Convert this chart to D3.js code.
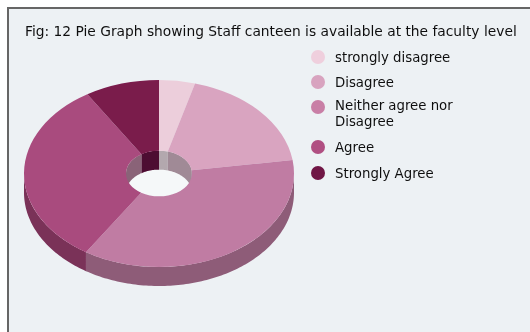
<!DOCTYPE html>
<html>
<head>
<meta charset="utf-8">
<script src="https://cdn.jsdelivr.net/npm/d3@7"></script>
<style>html,body{margin:0;padding:0;background:#fff;overflow:hidden}svg{display:block}</style>
</head>
<body>
<div id="chart"></div>
<script>
const categories = ["strongly disagree", "Disagree", "Neither agree nor|Disagree", "Agree", "Strongly Agree"];
const values = [4.3, 18.4, 36.4, 32, 8.9];
const faceColors = ["#eccedb", "#d9a4c0", "#c07ba3", "#a94b7e", "#7a1a4c"];
const legendColors = ["#efcfdd", "#d8a3bf", "#c97fa6", "#b04f82", "#701545"];
const outerWallColors = ["#9c8a94", "#94708a", "#8e5b78", "#7a3058", "#5a1038"];
const innerWallColors = ["#b3a8ae", "#a08a96", "#8e6a80", "#8a6478", "#4e0a30"];
const titleText = "Fig: 12 Pie Graph showing Staff canteen is available at the faculty level";

const W = 530, H = 332;
const font = "'DejaVu Sans',sans-serif";
const svg = d3.select("#chart").append("svg").attr("width", W).attr("height", H);
svg.append("defs").append("filter").attr("id", "soft")
  .attr("x", "-5%").attr("y", "-5%").attr("width", "110%").attr("height", "110%")
  .append("feGaussianBlur").attr("stdDeviation", 0.5);

const root = svg.append("g").attr("filter", "url(#soft)");
root.append("rect").attr("x", 8).attr("y", 8).attr("width", 540).attr("height", 340)
  .attr("fill", "#edf1f4").attr("stroke", "#666").attr("stroke-width", 2);

const cx = 159, cy = 173.5, rx = 135, ry = 93.5, rxIn = 33, depth = 19;
const k = ry / rx;
const pie = d3.pie().value(d => d).sort(null);
const arcs = pie(values);
const arc = d3.arc().innerRadius(rxIn).outerRadius(rx);
const pt = (r, a, dy) => [cx + r * Math.sin(a), cy - r * k * Math.cos(a) + dy];

function wall(r, a0, a1) {
  const n = Math.max(2, Math.ceil((a1 - a0) / 0.02));
  const angles = d3.range(n + 1).map(i => a0 + (a1 - a0) * i / n);
  const top = angles.map(a => pt(r, a, 0));
  const bottom = angles.map(a => pt(r, a, depth)).reverse();
  return d3.line()(top.concat(bottom)) + "Z";
}

const pie3d = root.append("g");
const PI = Math.PI;
// outer wall: front half of the ring
arcs.forEach((d, i) => {
  const a0 = Math.max(d.startAngle, PI / 2), a1 = Math.min(d.endAngle, 3 * PI / 2);
  if (a1 > a0) pie3d.append("path").attr("d", wall(rx, a0, a1)).attr("fill", outerWallColors[i]);
});
// see-through hole
pie3d.append("ellipse").attr("cx", cx).attr("cy", cy).attr("rx", rxIn).attr("ry", rxIn * k).attr("fill", "#f5f8f9");
// inner wall: back half of the hole
arcs.forEach((d, i) => {
  [[d.startAngle, Math.min(d.endAngle, PI / 2)], [Math.max(d.startAngle, 3 * PI / 2), d.endAngle]].forEach(([a0, a1]) => {
    if (a1 > a0) pie3d.append("path").attr("d", wall(rxIn, a0, a1)).attr("fill", innerWallColors[i]);
  });
});
// top faces
pie3d.append("g").attr("transform", `translate(${cx},${cy}) scale(1,${k})`)
  .selectAll("path").data(arcs).join("path")
  .attr("d", arc).attr("fill", (d, i) => faceColors[i]);

root.append("text").attr("x", 25).attr("y", 36).attr("font-family", font)
  .attr("font-size", 13.8).attr("fill", "#111").text(titleText);

const legendY = [57, 82, 107, 147, 173];
const legend = root.append("g").selectAll("g").data(categories).join("g")
  .attr("transform", (d, i) => `translate(318,${legendY[i]})`);
legend.append("circle").attr("r", 7).attr("fill", (d, i) => legendColors[i]);
legend.each(function (d) {
  const lines = d.split("|");
  const t = d3.select(this).append("text").attr("x", 17).attr("y", lines.length > 1 ? 3 : 5)
    .attr("font-family", font).attr("font-size", 13.3).attr("fill", "#111");
  lines.forEach((line, j) => t.append("tspan").attr("x", 17).attr("dy", j ? 15.5 : 0).text(line));
});
</script>
</body>
</html>
